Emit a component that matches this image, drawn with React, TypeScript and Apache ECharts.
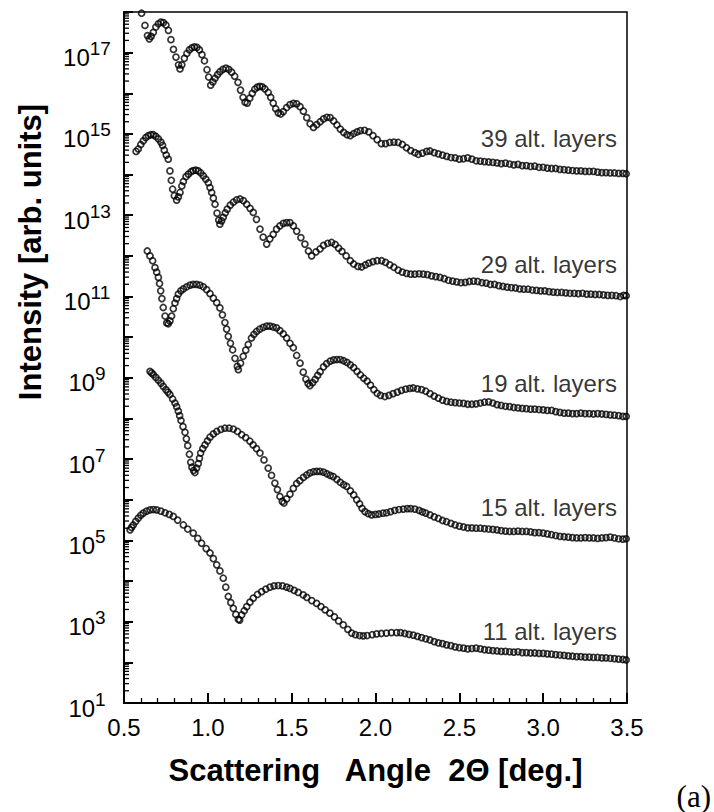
import React, { useEffect, useRef } from "react";
import * as echarts from "echarts";

// Each series: [scattering angle 2Θ (deg), log10(intensity)]
const layers39: [number, number][] = [
  [0.605,17.97],[0.625,17.67],[0.640,17.42],[0.651,17.34],[0.662,17.40],[0.675,17.50],[0.690,17.63],[0.705,17.71],[0.720,17.75],[0.735,17.74],
  [0.750,17.68],[0.765,17.55],[0.780,17.32],[0.795,17.08],[0.810,16.89],[0.825,16.70],[0.834,16.60],[0.845,16.70],[0.860,16.86],[0.875,16.98],
  [0.890,17.07],[0.905,17.12],[0.920,17.14],[0.935,17.13],[0.950,17.07],[0.965,16.95],[0.980,16.80],[0.995,16.58],[1.005,16.40],[1.017,16.20],
  [1.030,16.28],[1.043,16.37],[1.058,16.46],[1.072,16.53],[1.090,16.59],[1.108,16.62],[1.125,16.59],[1.142,16.52],[1.160,16.42],[1.180,16.27],
  [1.195,16.08],[1.210,15.90],[1.222,15.78],[1.235,15.76],[1.250,15.88],[1.265,16.00],[1.280,16.10],[1.295,16.15],[1.310,16.17],[1.325,16.16],
  [1.340,16.11],[1.360,16.02],[1.375,15.90],[1.390,15.76],[1.405,15.62],[1.420,15.52],[1.435,15.49],[1.450,15.55],[1.470,15.65],[1.490,15.72],
  [1.510,15.75],[1.530,15.74],[1.550,15.67],[1.570,15.56],[1.590,15.40],[1.610,15.25],[1.630,15.16],[1.650,15.23],[1.670,15.30],[1.690,15.37],
  [1.710,15.41],[1.730,15.40],[1.750,15.32],[1.770,15.22],[1.790,15.12],[1.810,15.04],[1.830,14.98],[1.850,14.96],[1.870,15.01],[1.890,15.05],
  [1.910,15.08],[1.935,15.09],[1.960,15.05],[1.985,14.96],[2.010,14.86],[2.035,14.76],[2.060,14.76],[2.085,14.79],[2.110,14.80],[2.135,14.79],
  [2.160,14.74],[2.185,14.66],[2.210,14.59],[2.235,14.54],[2.255,14.50],[2.280,14.53],[2.305,14.57],[2.325,14.58],[2.350,14.54],[2.375,14.51],
  [2.400,14.48],[2.425,14.45],[2.450,14.42],[2.475,14.41],[2.500,14.38],[2.525,14.39],[2.550,14.41],[2.575,14.38],[2.600,14.34],[2.625,14.33],
  [2.650,14.32],[2.675,14.31],[2.700,14.30],[2.725,14.29],[2.750,14.27],[2.775,14.28],[2.800,14.26],[2.825,14.24],[2.850,14.25],[2.875,14.22],
  [2.900,14.22],[2.925,14.20],[2.950,14.21],[2.975,14.18],[3.000,14.18],[3.025,14.16],[3.050,14.15],[3.075,14.15],[3.100,14.13],[3.125,14.12],
  [3.150,14.11],[3.175,14.10],[3.200,14.09],[3.225,14.09],[3.250,14.08],[3.275,14.08],[3.300,14.08],[3.325,14.06],[3.350,14.05],[3.375,14.05],
  [3.400,14.04],[3.425,14.04],[3.450,14.03],[3.475,14.03],[3.495,14.02],
];

const layers29: [number, number][] = [
  [0.572,14.57],[0.585,14.63],[0.600,14.74],[0.615,14.83],[0.630,14.91],[0.645,14.96],[0.660,14.98],[0.675,14.98],[0.690,14.94],[0.705,14.88],
  [0.720,14.80],[0.730,14.72],[0.740,14.60],[0.752,14.48],[0.764,14.38],[0.774,14.09],[0.782,13.86],[0.790,13.64],[0.800,13.48],[0.814,13.37],
  [0.824,13.45],[0.834,13.56],[0.845,13.72],[0.854,13.83],[0.870,13.95],[0.884,14.01],[0.900,14.07],[0.913,14.10],[0.928,14.11],[0.943,14.09],
  [0.958,14.04],[0.973,13.97],[0.988,13.89],[1.003,13.80],[1.013,13.68],[1.023,13.56],[1.033,13.42],[1.043,13.27],[1.055,13.05],[1.065,12.88],
  [1.072,12.78],[1.082,12.86],[1.092,12.95],[1.104,13.06],[1.116,13.15],[1.134,13.25],[1.152,13.32],[1.172,13.38],[1.192,13.40],[1.212,13.36],
  [1.232,13.27],[1.252,13.17],[1.271,13.07],[1.290,12.90],[1.311,12.66],[1.330,12.46],[1.351,12.29],[1.370,12.42],[1.390,12.53],[1.410,12.66],
  [1.430,12.74],[1.450,12.80],[1.470,12.82],[1.490,12.82],[1.510,12.74],[1.530,12.61],[1.555,12.45],[1.579,12.29],[1.600,12.12],[1.619,12.00],
  [1.645,12.10],[1.669,12.17],[1.690,12.26],[1.715,12.31],[1.738,12.33],[1.760,12.28],[1.780,12.19],[1.800,12.11],[1.825,12.00],[1.850,11.88],
  [1.870,11.80],[1.895,11.74],[1.917,11.73],[1.940,11.78],[1.960,11.82],[1.985,11.86],[2.010,11.88],[2.037,11.88],[2.060,11.84],[2.085,11.78],
  [2.110,11.72],[2.135,11.65],[2.160,11.60],[2.185,11.57],[2.210,11.55],[2.235,11.55],[2.260,11.56],[2.285,11.55],[2.310,11.54],[2.335,11.51],
  [2.360,11.49],[2.385,11.47],[2.410,11.44],[2.435,11.40],[2.460,11.38],[2.485,11.36],[2.510,11.34],[2.535,11.35],[2.560,11.37],[2.585,11.38],
  [2.610,11.37],[2.635,11.34],[2.660,11.33],[2.685,11.30],[2.710,11.30],[2.735,11.27],[2.760,11.25],[2.785,11.23],[2.810,11.22],[2.835,11.21],
  [2.860,11.19],[2.885,11.18],[2.910,11.18],[2.935,11.16],[2.960,11.15],[2.985,11.14],[3.010,11.14],[3.035,11.12],[3.060,11.11],[3.085,11.10],
  [3.110,11.10],[3.135,11.09],[3.160,11.08],[3.185,11.08],[3.210,11.07],[3.235,11.08],[3.260,11.06],[3.285,11.06],[3.310,11.05],[3.335,11.05],
  [3.360,11.04],[3.385,11.03],[3.410,11.03],[3.435,11.02],[3.460,11.00],[3.480,11.03],[3.495,11.02],
];

const layers19: [number, number][] = [
  [0.639,12.12],[0.655,12.00],[0.671,11.88],[0.685,11.71],[0.695,11.60],[0.705,11.47],[0.712,11.32],[0.719,11.14],[0.726,10.95],[0.734,10.73],
  [0.745,10.52],[0.755,10.35],[0.764,10.33],[0.774,10.40],[0.784,10.52],[0.794,10.70],[0.804,10.84],[0.814,10.95],[0.824,11.06],[0.839,11.14],
  [0.854,11.19],[0.874,11.24],[0.894,11.28],[0.913,11.30],[0.933,11.30],[0.953,11.28],[0.973,11.24],[0.993,11.17],[1.013,11.07],[1.033,10.96],
  [1.053,10.85],[1.072,10.72],[1.087,10.55],[1.102,10.36],[1.112,10.20],[1.122,10.02],[1.135,9.85],[1.148,9.69],[1.162,9.48],[1.176,9.28],
  [1.182,9.20],[1.195,9.36],[1.211,9.53],[1.226,9.68],[1.241,9.82],[1.260,9.98],[1.275,10.07],[1.291,10.14],[1.310,10.20],[1.330,10.24],
  [1.351,10.27],[1.370,10.27],[1.390,10.25],[1.410,10.23],[1.430,10.16],[1.450,10.08],[1.470,9.98],[1.490,9.85],[1.510,9.74],[1.530,9.55],
  [1.550,9.36],[1.569,9.14],[1.585,8.97],[1.598,8.86],[1.609,8.81],[1.625,8.88],[1.640,8.96],[1.655,9.06],[1.670,9.15],[1.690,9.27],
  [1.709,9.35],[1.730,9.41],[1.750,9.44],[1.770,9.45],[1.790,9.45],[1.810,9.42],[1.830,9.38],[1.850,9.32],[1.870,9.25],[1.890,9.16],
  [1.910,9.07],[1.930,8.99],[1.950,8.92],[1.970,8.82],[1.990,8.71],[2.010,8.62],[2.030,8.57],[2.056,8.54],[2.080,8.57],[2.105,8.61],
  [2.130,8.65],[2.155,8.69],[2.180,8.72],[2.205,8.74],[2.225,8.75],[2.250,8.73],[2.275,8.71],[2.300,8.67],[2.325,8.61],[2.350,8.55],
  [2.375,8.50],[2.400,8.45],[2.425,8.42],[2.450,8.40],[2.475,8.39],[2.500,8.38],[2.525,8.37],[2.550,8.35],[2.575,8.35],[2.600,8.36],
  [2.625,8.38],[2.650,8.40],[2.675,8.41],[2.700,8.38],[2.725,8.34],[2.750,8.32],[2.775,8.30],[2.800,8.29],[2.825,8.27],[2.850,8.26],
  [2.875,8.25],[2.900,8.24],[2.925,8.23],[2.950,8.23],[2.975,8.22],[3.000,8.21],[3.025,8.20],[3.050,8.20],[3.075,8.17],[3.100,8.15],
  [3.125,8.13],[3.150,8.13],[3.175,8.12],[3.200,8.12],[3.225,8.13],[3.250,8.12],[3.275,8.12],[3.300,8.11],[3.325,8.12],[3.350,8.11],
  [3.375,8.10],[3.400,8.09],[3.425,8.08],[3.450,8.07],[3.475,8.05],[3.495,8.05],
];

const layers15: [number, number][] = [
  [0.655,9.16],[0.665,9.12],[0.675,9.08],[0.690,9.01],[0.705,8.94],[0.720,8.87],[0.734,8.79],[0.750,8.71],[0.762,8.65],[0.774,8.59],
  [0.790,8.48],[0.804,8.38],[0.814,8.29],[0.824,8.18],[0.832,8.07],[0.840,7.95],[0.852,7.80],[0.864,7.66],[0.872,7.50],[0.880,7.33],
  [0.890,7.12],[0.898,6.92],[0.905,6.80],[0.915,6.72],[0.923,6.67],[0.933,6.78],[0.943,6.89],[0.950,7.02],[0.957,7.15],[0.970,7.26],
  [0.983,7.35],[0.998,7.45],[1.013,7.54],[1.033,7.62],[1.053,7.68],[1.078,7.73],[1.102,7.76],[1.127,7.76],[1.152,7.74],[1.177,7.68],
  [1.202,7.60],[1.226,7.53],[1.251,7.44],[1.270,7.35],[1.290,7.26],[1.311,7.15],[1.335,6.98],[1.360,6.78],[1.380,6.60],[1.400,6.41],
  [1.415,6.25],[1.430,6.08],[1.444,5.96],[1.454,5.92],[1.470,6.02],[1.490,6.14],[1.510,6.28],[1.530,6.40],[1.549,6.47],[1.570,6.55],
  [1.590,6.61],[1.609,6.66],[1.630,6.69],[1.650,6.70],[1.669,6.70],[1.690,6.68],[1.710,6.64],[1.730,6.60],[1.748,6.57],[1.770,6.50],
  [1.790,6.43],[1.810,6.37],[1.828,6.33],[1.850,6.22],[1.870,6.12],[1.888,6.00],[1.905,5.90],[1.920,5.79],[1.937,5.71],[1.957,5.66],
  [1.977,5.63],[2.000,5.64],[2.020,5.65],[2.045,5.67],[2.066,5.68],[2.090,5.71],[2.115,5.74],[2.140,5.76],[2.166,5.77],[2.190,5.78],
  [2.210,5.78],[2.235,5.77],[2.260,5.74],[2.280,5.70],[2.300,5.67],[2.325,5.63],[2.350,5.58],[2.375,5.54],[2.400,5.49],[2.424,5.46],
  [2.450,5.42],[2.475,5.38],[2.500,5.35],[2.525,5.33],[2.550,5.31],[2.575,5.31],[2.600,5.30],[2.625,5.30],[2.650,5.29],[2.675,5.28],
  [2.700,5.27],[2.725,5.26],[2.750,5.24],[2.775,5.23],[2.800,5.22],[2.825,5.22],[2.850,5.23],[2.875,5.22],[2.900,5.22],[2.925,5.21],
  [2.950,5.19],[2.975,5.19],[3.000,5.18],[3.025,5.16],[3.050,5.14],[3.075,5.12],[3.100,5.10],[3.125,5.09],[3.150,5.08],[3.175,5.07],
  [3.200,5.06],[3.225,5.06],[3.250,5.07],[3.275,5.06],[3.300,5.06],[3.325,5.05],[3.350,5.06],[3.375,5.07],[3.400,5.08],[3.425,5.06],
  [3.450,5.04],[3.475,5.03],[3.495,5.04],
];

const layers11: [number, number][] = [
  [0.536,5.26],[0.545,5.32],[0.555,5.38],[0.570,5.47],[0.585,5.55],[0.600,5.62],[0.615,5.67],[0.635,5.72],[0.655,5.75],[0.675,5.76],
  [0.695,5.75],[0.720,5.72],[0.745,5.68],[0.770,5.64],[0.794,5.59],[0.820,5.50],[0.854,5.38],[0.880,5.28],[0.913,5.18],[0.940,5.05],
  [0.963,4.93],[0.990,4.80],[1.013,4.69],[1.033,4.55],[1.053,4.40],[1.072,4.25],[1.092,4.07],[1.107,3.85],[1.122,3.62],[1.137,3.47],
  [1.152,3.33],[1.167,3.18],[1.182,3.06],[1.190,3.04],[1.202,3.17],[1.217,3.27],[1.232,3.37],[1.251,3.48],[1.271,3.58],[1.296,3.67],
  [1.321,3.74],[1.346,3.80],[1.371,3.85],[1.395,3.88],[1.420,3.89],[1.445,3.88],[1.470,3.85],[1.490,3.82],[1.515,3.77],[1.539,3.72],
  [1.569,3.66],[1.590,3.60],[1.620,3.52],[1.649,3.45],[1.675,3.37],[1.700,3.29],[1.728,3.21],[1.755,3.12],[1.780,3.02],[1.808,2.92],
  [1.835,2.81],[1.858,2.72],[1.880,2.68],[1.905,2.66],[1.927,2.65],[1.950,2.66],[1.980,2.68],[2.007,2.70],[2.035,2.71],[2.065,2.72],
  [2.095,2.73],[2.126,2.73],[2.150,2.73],[2.175,2.71],[2.200,2.69],[2.225,2.67],[2.250,2.64],[2.275,2.61],[2.300,2.58],[2.325,2.55],
  [2.350,2.51],[2.375,2.48],[2.400,2.46],[2.424,2.43],[2.450,2.41],[2.475,2.38],[2.500,2.36],[2.525,2.35],[2.550,2.33],[2.575,2.34],
  [2.600,2.35],[2.625,2.33],[2.650,2.31],[2.675,2.30],[2.700,2.29],[2.725,2.28],[2.750,2.27],[2.775,2.27],[2.800,2.26],[2.825,2.25],
  [2.850,2.26],[2.875,2.24],[2.900,2.24],[2.925,2.23],[2.950,2.23],[2.975,2.22],[3.000,2.22],[3.025,2.21],[3.050,2.20],[3.075,2.19],
  [3.100,2.18],[3.125,2.17],[3.150,2.16],[3.175,2.15],[3.200,2.14],[3.225,2.14],[3.250,2.13],[3.275,2.13],[3.300,2.12],[3.325,2.12],
  [3.350,2.11],[3.375,2.11],[3.400,2.10],[3.425,2.09],[3.450,2.08],[3.475,2.07],[3.495,2.06],
];

const seriesNames = ["39 alt. layers", "29 alt. layers", "19 alt. layers", "15 alt. layers", "11 alt. layers"];
// label anchors: [angle at right end of text, log10 intensity]
const labelAnchors: [number, number][] = [[3.44, 14.90], [3.44, 11.78], [3.44, 8.87], [3.44, 5.80], [3.44, 2.75]];

const xTickLabels = ["0.5", "1.0", "1.5", "2.0", "2.5", "3.0", "3.5"];
const minorMultipliers = [2, 3, 4, 5, 6, 7, 8, 9];

const FONT = '"Liberation Sans", Arial, Helvetica, sans-serif';

export default function App() {
  const ref = useRef<HTMLDivElement>(null);
  useEffect(() => {
    if (!ref.current) return;
    const chart = echarts.init(ref.current, null, { renderer: "svg" });
    const all = [layers39, layers29, layers19, layers15, layers11];
    const toData = (arr: [number, number][]) => arr.map(([a, e]) => [a, Math.pow(10, e)]);

    const minorTicks: number[][] = [];
    for (let d = 1; d < 18; d++) for (const m of minorMultipliers) minorTicks.push([0.5, m * Math.pow(10, d)]);

    const dataSeries: any[] = all.map((arr, i) => ({
      type: "scatter",
      name: seriesNames[i],
      data: toData(arr),
      symbol: "circle",
      symbolSize: 6,
      itemStyle: { color: "rgba(255,255,255,0)", borderColor: "#000", borderWidth: 1.7 },
      silent: true,
      z: 3,
    }));

    const option: any = {
      animation: false,
      backgroundColor: "#ffffff",
      grid: { left: 124, right: 87, top: 12, bottom: 109, show: true, borderColor: "#000", borderWidth: 1.5, backgroundColor: "transparent" },
      xAxis: {
        type: "value",
        min: 0.5,
        max: 3.5,
        interval: 0.5,
        name: "Scattering   Angle  2\u0398 [deg.]",
        nameLocation: "middle",
        nameGap: 52,
        nameTextStyle: { fontFamily: FONT, fontWeight: "bold", fontSize: 31, color: "#000" },
        axisLine: { show: true, lineStyle: { color: "#000", width: 2 } },
        axisTick: { show: true, inside: true, length: 10, lineStyle: { color: "#000", width: 2 } },
        minorTick: { show: true, splitNumber: 5, length: 5, lineStyle: { color: "#000", width: 1.3 } },
        splitLine: { show: false },
        axisLabel: {
          margin: 12,
          fontFamily: FONT,
          fontSize: 24,
          color: "#000",
          formatter: (v: number) => xTickLabels[Math.round((v - 0.5) / 0.5)] ?? "",
        },
      },
      yAxis: {
        type: "log",
        logBase: 10,
        min: 10,
        max: 1e18,
        interval: 1,
        axisLine: { show: true, lineStyle: { color: "#000", width: 2 } },
        axisTick: { show: true, inside: true, length: 9, lineStyle: { color: "#000", width: 2 } },
        minorTick: { show: false },
        splitLine: { show: false },
        axisLabel: {
          align: "center",
          margin: 37,
          fontFamily: FONT,
          color: "#000",
          formatter: (v: number) => {
            const e = Math.round(Math.log10(v));
            return e % 2 === 1 ? `{b|10}{s|${e}}` : "";
          },
          rich: {
            b: { fontFamily: FONT, fontSize: 24, height: 24, lineHeight: 34, verticalAlign: "bottom", color: "#000" },
            s: { fontFamily: FONT, fontSize: 19, height: 26, lineHeight: 34, verticalAlign: "top", color: "#000" },
          },
        },
      },
      series: [
        ...dataSeries,
        {
          type: "custom",
          name: "minor ticks",
          coordinateSystem: "cartesian2d",
          data: minorTicks,
          encode: { x: 0, y: 1 },
          silent: true,
          z: 4,
          renderItem: (_p: any, api: any) => {
            const pt = api.coord([api.value(0), api.value(1)]);
            return {
              type: "line",
              shape: { x1: pt[0], y1: pt[1], x2: pt[0] + 5, y2: pt[1] },
              style: { stroke: "#000", lineWidth: 1.3 },
            };
          },
        },
        {
          type: "scatter",
          name: "labels",
          silent: true,
          symbolSize: 0,
          data: labelAnchors.map(([a, e], i) => ({
            value: [a, Math.pow(10, e)],
            label: {
              show: true,
              position: "left",
              distance: 0,
              formatter: seriesNames[i],
              fontFamily: FONT,
              fontSize: 24,
              color: "#000",
            },
          })),
          z: 5,
        },
      ],
      graphic: [
        {
          type: "text",
          x: 30,
          y: 252,
          rotation: Math.PI / 2,
          style: {
            text: "Intensity [arb. units]",
            fontFamily: FONT,
            fontWeight: "bold",
            fontSize: 31,
            fill: "#000",
            align: "center",
            verticalAlign: "middle",
          },
        },
        {
          type: "text",
          x: 711,
          y: 796,
          style: {
            text: "(a)",
            fontFamily: '"Liberation Serif", "Times New Roman", serif',
            fontSize: 31,
            fill: "#000",
            align: "right",
            verticalAlign: "middle",
          },
        },
      ],
    };
    chart.setOption(option);
    return () => chart.dispose();
  }, []);
  return <div ref={ref} style={{ position: "fixed", left: 0, top: 0, width: 714, height: 812, background: "#fff" }} />;
}
